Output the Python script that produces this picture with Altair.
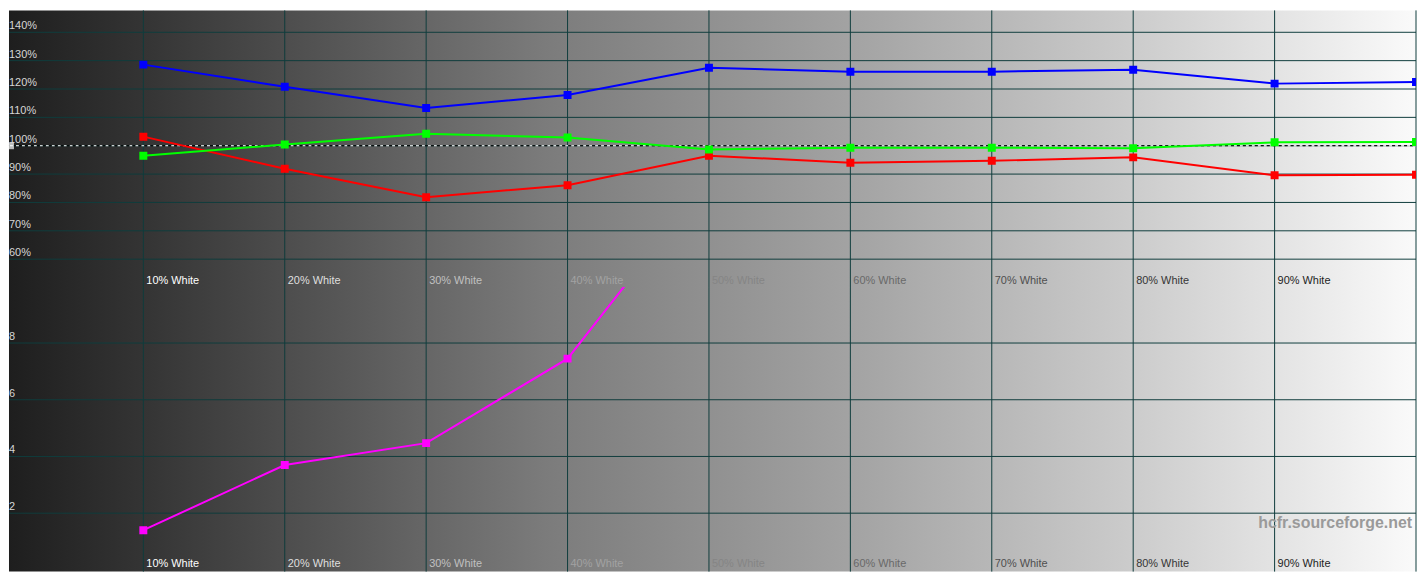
import altair as alt
import pandas as pd

# ---------------- data ----------------
levels = [10, 20, 30, 40, 50, 60, 70, 80, 90, 100]
red = [103.2, 91.9, 81.8, 86.1, 96.5, 94.0, 94.7, 95.9, 89.6, 89.8]
green = [96.5, 100.4, 104.2, 102.9, 98.7, 99.3, 99.3, 99.1, 101.2, 101.3]
blue = [128.6, 120.8, 113.3, 117.9, 127.5, 126.1, 126.1, 126.8, 121.9, 122.5]

de_levels = [10, 20, 30, 40, 50]
delta_e = [1.4, 3.7, 4.47, 7.45, 13.8]

label_levels = [10, 20, 30, 40, 50, 60, 70, 80, 90]
x_labels = ["10% White", "20% White", "30% White", "40% White", "50% White",
            "60% White", "70% White", "80% White", "90% White"]
grid_levels = [10, 20, 30, 40, 50, 60, 70, 80, 90, 100]

rgb_ticks = [60, 70, 80, 90, 100, 110, 120, 130, 140]
rgb_tick_labels = ["60%", "70%", "80%", "90%", "100%", "110%", "120%", "130%", "140%"]
de_ticks = [2, 4, 6, 8]
de_tick_labels = ["2", "4", "6", "8"]
reference_level = [100]
watermark = ["hcfr.sourceforge.net"]

# ---------------- layout ----------------
W = 1414
H_TOP = 278
H_BOT = 286
FONT = "Liberation Sans"
GRID = "#0f3c3c"

xscale = alt.Scale(domain=[0.5, 100], nice=False, zero=False)
ytop = alt.Scale(domain=[50.18, 147.72], nice=False, zero=False)
ybot = alt.Scale(domain=[-0.06, 9.975], nice=False, zero=False)

gradient = alt.LinearGradient(
    gradient="linear",
    stops=[
        alt.GradientStop(color="#1e1e1e", offset=0),
        alt.GradientStop(color="#353535", offset=0.1),
        alt.GradientStop(color="#7b7b7b", offset=0.38),
        alt.GradientStop(color="#a3a3a3", offset=0.6),
        alt.GradientStop(color="#cccccc", offset=0.8),
        alt.GradientStop(color="#fafafa", offset=1),
    ],
    x1=0, x2=1, y1=0, y2=0,
)

one = pd.DataFrame({"a": [0]})
df_grid = pd.DataFrame({"level": grid_levels})
df_xlab = pd.DataFrame({"level": label_levels, "label": x_labels})
df_rgb_ticks = pd.DataFrame({"v": rgb_ticks, "label": rgb_tick_labels})
df_de_ticks = pd.DataFrame({"v": de_ticks, "label": de_tick_labels})
df_ref = pd.DataFrame({"v": reference_level})

rows = []
for name, vals in (("Red", red), ("Green", green), ("Blue", blue)):
    for lv, v in zip(levels, vals):
        rows.append({"level": lv, "value": v, "series": name})
df_rgb = pd.DataFrame(rows)
df_de = pd.DataFrame({"level": de_levels, "value": delta_e})

X = alt.X("level:Q", scale=xscale, axis=None)


def background(h):
    return alt.Chart(one).mark_rect(color=gradient).encode(
        x=alt.value(0), x2=alt.value(W), y=alt.value(0), y2=alt.value(h)
    )


def vgrid():
    return alt.Chart(df_grid).mark_rule(color=GRID, strokeWidth=1).encode(x=X)


def xlabels(h, dy):
    return alt.Chart(df_xlab).mark_text(
        align="left", baseline="alphabetic", dx=3, dy=dy, font=FONT, fontSize=11
    ).encode(
        x=X,
        y=alt.value(h),
        text="label:N",
        color=alt.Color("level:Q", legend=None,
                        scale=alt.Scale(domain=[10, 90], range=["#ffffff", "#1e1e1e"])),
    )


# ---------------- top panel (RGB levels) ----------------
top_hgrid = alt.Chart(df_rgb_ticks).mark_rule(color=GRID, strokeWidth=1).encode(
    y=alt.Y("v:Q", scale=ytop, axis=None)
)
top_ylabels = alt.Chart(df_rgb_ticks).mark_text(
    align="left", baseline="alphabetic", dx=0, dy=-3, font=FONT, fontSize=11, color="#d6d6d6"
).encode(x=alt.value(0), y=alt.Y("v:Q", scale=ytop, axis=None), text="label:N")

ref_white = alt.Chart(df_ref).mark_rule(color="#ffffff", strokeWidth=1, strokeDash=[3, 3]).encode(
    y=alt.Y("v:Q", scale=ytop, axis=None)
)
ref_black = alt.Chart(df_ref).mark_rule(color="#000000", strokeWidth=1, strokeDash=[3, 3],
                                        strokeDashOffset=3).encode(
    y=alt.Y("v:Q", scale=ytop, axis=None)
)
ref_marker = alt.Chart(df_ref).mark_tick(color="#ffffff", thickness=5, size=7, orient="vertical").encode(
    x=alt.value(2.5), y=alt.Y("v:Q", scale=ytop, axis=None)
)

rgb_color = alt.Color("series:N", legend=None,
                      scale=alt.Scale(domain=["Red", "Green", "Blue"],
                                      range=["#ff0000", "#00ff00", "#0000ff"]))
rgb_lines = alt.Chart(df_rgb).mark_line(strokeWidth=2, clip=True).encode(
    x=X, y=alt.Y("value:Q", scale=ytop, axis=None), color=rgb_color, detail="series:N"
)
rgb_points = alt.Chart(df_rgb).mark_square(size=64, opacity=1, filled=True, clip=True).encode(
    x=X, y=alt.Y("value:Q", scale=ytop, axis=None), color=rgb_color
)

top = alt.layer(
    background(H_TOP), vgrid(), top_hgrid, ref_white, ref_black, ref_marker,
    top_ylabels, xlabels(H_TOP, -3), rgb_lines, rgb_points
).properties(width=W, height=H_TOP)

# ---------------- bottom panel (delta E) ----------------
bot_hgrid = alt.Chart(df_de_ticks).mark_rule(color=GRID, strokeWidth=1).encode(
    y=alt.Y("v:Q", scale=ybot, axis=None)
)
bot_ylabels = alt.Chart(df_de_ticks).mark_text(
    align="left", baseline="alphabetic", dx=0, dy=-3, font=FONT, fontSize=11, color="#d6d6d6"
).encode(x=alt.value(0), y=alt.Y("v:Q", scale=ybot, axis=None), text="label:N")

de_line = alt.Chart(df_de).mark_line(strokeWidth=2, color="#ff00ff", clip=True).encode(
    x=X, y=alt.Y("value:Q", scale=ybot, axis=None)
)
de_points = alt.Chart(df_de).mark_square(size=64, opacity=1, filled=True, color="#ff00ff",
                                         clip=True).encode(
    x=X, y=alt.Y("value:Q", scale=ybot, axis=None)
)
wm = alt.Chart(pd.DataFrame({"t": watermark})).mark_text(
    align="right", baseline="alphabetic", font=FONT, fontSize=16, fontWeight="bold", color="#9a9a9a"
).encode(x=alt.value(W - 4), y=alt.value(242), text="t:N")

bottom = alt.layer(
    background(H_BOT), vgrid(), bot_hgrid, bot_ylabels, xlabels(H_BOT, -5), wm, de_line, de_points
).properties(width=W, height=H_BOT)

chart = alt.vconcat(top, bottom, spacing=0, bounds="flush").properties(
    padding=0, background="#ffffff"
).configure_view(strokeWidth=0)

chart.save("out.html", embed_options={"renderer": "svg", "actions": False})
